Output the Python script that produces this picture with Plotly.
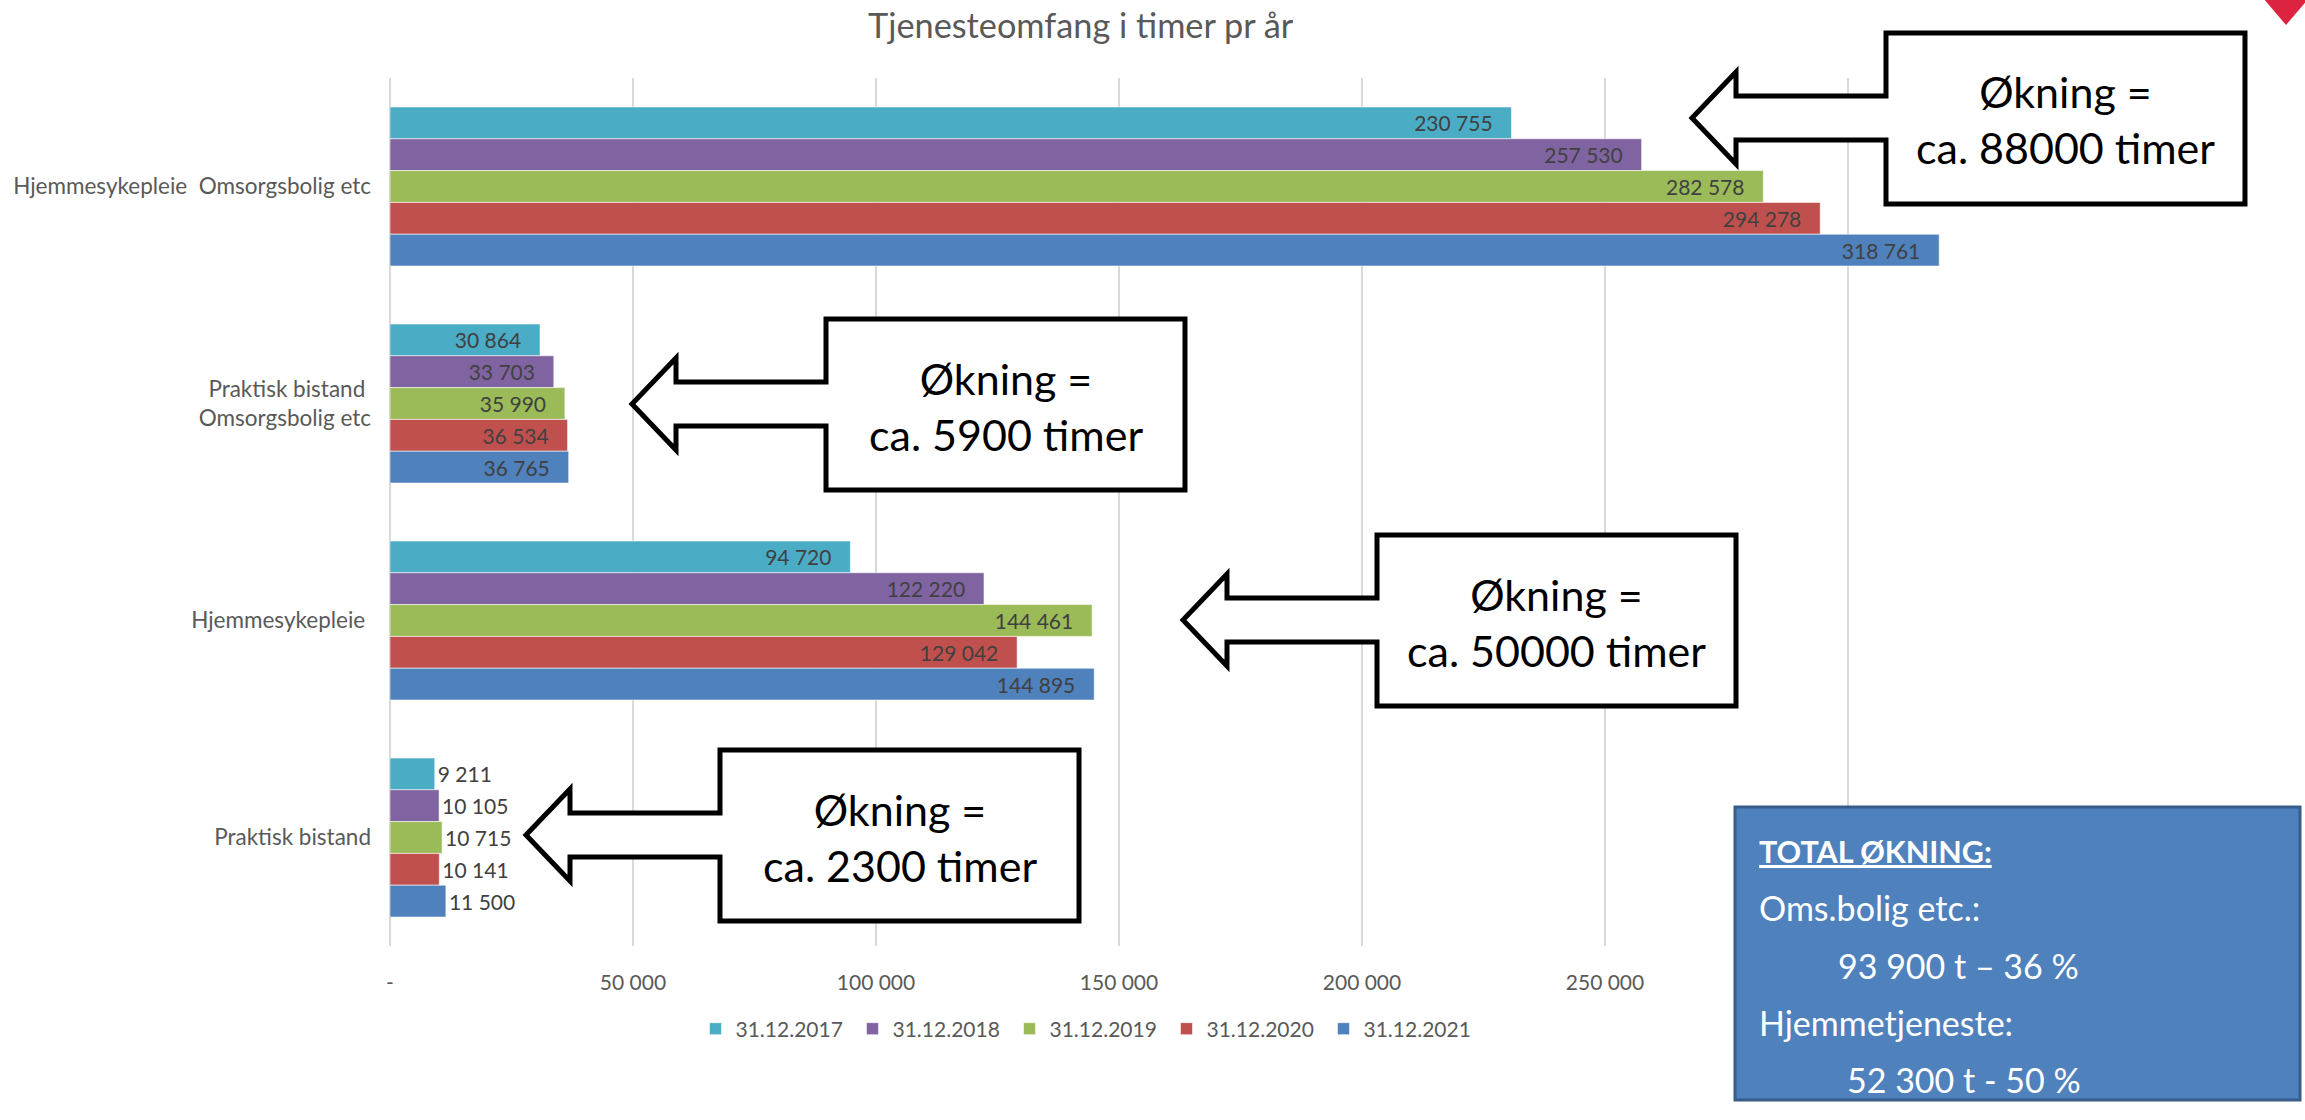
import plotly.graph_objects as go

# Service volume (hours per year) by service type and reporting date
categories = [
    "Hjemmesykepleie\u00a0\u00a0Omsorgsbolig etc",
    "Praktisk bistand\u00a0<br>Omsorgsbolig etc",
    "Hjemmesykepleie\u00a0",
    "Praktisk bistand",
]
series_names = ["31.12.2017", "31.12.2018", "31.12.2019", "31.12.2020", "31.12.2021"]
values_2017 = [230755, 30864, 94720, 9211]
values_2018 = [257530, 33703, 122220, 10105]
values_2019 = [282578, 35990, 144461, 10715]
values_2020 = [294278, 36534, 129042, 10141]
values_2021 = [318761, 36765, 144895, 11500]
series_values = [values_2017, values_2018, values_2019, values_2020, values_2021]
series_colors = ["#4BACC6", "#8064A2", "#9BBB59", "#C0504D", "#4F81BD"]

tick_values = [0, 50000, 100000, 150000, 200000, 250000, 300000, 350000]
labelled_max = 250000  # ticks further right sit beneath the summary box
tick_labels = ["-" if v == 0 else (f"{v:,}".replace(",", " ") if v <= labelled_max else "")
               for v in tick_values]

callout_texts = [
    "Økning =<br>ca. 88000 timer",
    "Økning =<br>ca. 5900 timer",
    "Økning =<br>ca. 50000 timer",
    "Økning =<br>ca. 2300 timer",
]
total_lines = [
    "<b><u>TOTAL ØKNING:</u></b>",
    "Oms.bolig etc.:",
    "93 900 t – 36 %",
    "Hjemmetjeneste:",
    "52 300 t - 50 %",
]

FONT = "Lato"
W, H = 2305, 1120
PL, PR, PT, PB = 390, 2091, 78, 946  # plot area in pixels
SHORT_BAR = 20000  # bars shorter than this get their label past the bar end


def px(x):
    return (x - PL) / (PR - PL)


def py(y):
    return (PB - y) / (PB - PT)


label_font = dict(family=FONT, size=21, color="#404040")
fig = go.Figure()
for name, vals, col in zip(series_names, series_values, series_colors):
    positions = ["outside" if v < SHORT_BAR else "inside" for v in vals]
    templates = ["%{x:,}" if v < SHORT_BAR else "%{x:,}\u2002\u00a0" for v in vals]
    fig.add_trace(go.Bar(
        name=name,
        y=categories,
        x=vals,
        orientation="h",
        marker=dict(color=col, line=dict(color="rgba(255,255,255,0.55)", width=1)),
        texttemplate=templates,
        textposition=positions,
        insidetextanchor="end",
        constraintext="none",
        cliponaxis=False,
        textfont=label_font,
        insidetextfont=label_font,
        outsidetextfont=label_font,
        hoverinfo="skip",
    ))


def callout_path(tx, ty):
    bx, rx = tx + 194, tx + 553
    top, bot = ty - 85, ty + 86
    hx, h, s = tx + 44, 46, 22
    pts = [(bx, ty - s), (bx, top), (rx, top), (rx, bot), (bx, bot), (bx, ty + s),
           (hx, ty + s), (hx, ty + h), (tx, ty), (hx, ty - h), (hx, ty - s)]
    return "M " + " L ".join(f"{px(x):.5f},{py(y):.5f}" for x, y in pts) + " Z"


callout_tips = [(1692, 118), (632, 404), (1183, 620), (526, 835)]
shapes = []
annotations = []
for (tx, ty), txt in zip(callout_tips, callout_texts):
    shapes.append(dict(type="path", path=callout_path(tx, ty), xref="paper", yref="paper",
                       fillcolor="white", line=dict(color="black", width=5), layer="above"))
    annotations.append(dict(x=px(tx + 373.5), y=py(ty + 2), xref="paper", yref="paper",
                            text=txt, showarrow=False, xanchor="center", yanchor="middle",
                            font=dict(family=FONT, size=43, color="black")))

# Summary box
shapes.append(dict(type="rect", xref="paper", yref="paper",
                   x0=px(1735), x1=px(2300), y0=py(807), y1=py(1100),
                   fillcolor="#4F81BD", line=dict(color="#385D8A", width=3), layer="above"))
line_y = [851, 907, 965, 1022, 1079]
line_x = [1757, 1757, 1836, 1757, 1845]
line_size = [30.5, 34, 34, 34, 34]
for txt, lx, ly, sz in zip(total_lines, line_x, line_y, line_size):
    annotations.append(dict(x=px(lx), y=py(ly), xref="paper", yref="paper", text=txt,
                            showarrow=False, xanchor="left", yanchor="middle",
                            font=dict(family=FONT, size=sz, color="white")))

# Corner mark
corner = [(2263, -2), (2286, 25), (2309, -2)]
shapes.append(dict(type="path", xref="paper", yref="paper",
                   path="M " + " L ".join(f"{px(x):.5f},{py(y):.5f}" for x, y in corner) + " Z",
                   fillcolor="#DC2440", line=dict(width=0), layer="above"))

# Title
annotations.append(dict(x=px(1081), y=py(25), xref="paper", yref="paper",
                        text="Tjenesteomfang i timer pr år", showarrow=False,
                        xanchor="center", yanchor="middle",
                        font=dict(family=FONT, size=34.3, color="#595959")))

fig.update_layout(
    width=W, height=H,
    margin=dict(l=PL, r=W - PR, t=PT, b=H - PB, autoexpand=False),
    paper_bgcolor="white", plot_bgcolor="white",
    barmode="group", bargap=0.267, bargroupgap=0,
    separators=", ",
    showlegend=True,
    legend=dict(orientation="h", x=px(1088), y=py(1029), xanchor="center", yanchor="middle",
                entrywidth=112, entrywidthmode="pixels",
                font=dict(family=FONT, size=21, color="#595959"), traceorder="normal"),
    xaxis=dict(range=[0, 350000], tickvals=tick_values, ticktext=tick_labels,
               showgrid=True, gridcolor="#D9D9D9", gridwidth=1.5,
               zeroline=True, zerolinecolor="#D9D9D9", zerolinewidth=2,
               showline=False, ticks="", ticklabelstandoff=22,
               tickfont=dict(family=FONT, size=21, color="#595959"), automargin=False),
    yaxis=dict(type="category", categoryorder="array", categoryarray=categories,
               autorange="reversed", showgrid=False, zeroline=False, showline=False,
               ticks="", ticklabelstandoff=18,
               tickfont=dict(family=FONT, size=22.5, color="#595959"), automargin=False),
    shapes=shapes,
    annotations=annotations,
    font=dict(family=FONT),
)

fig.write_html("out.html")
